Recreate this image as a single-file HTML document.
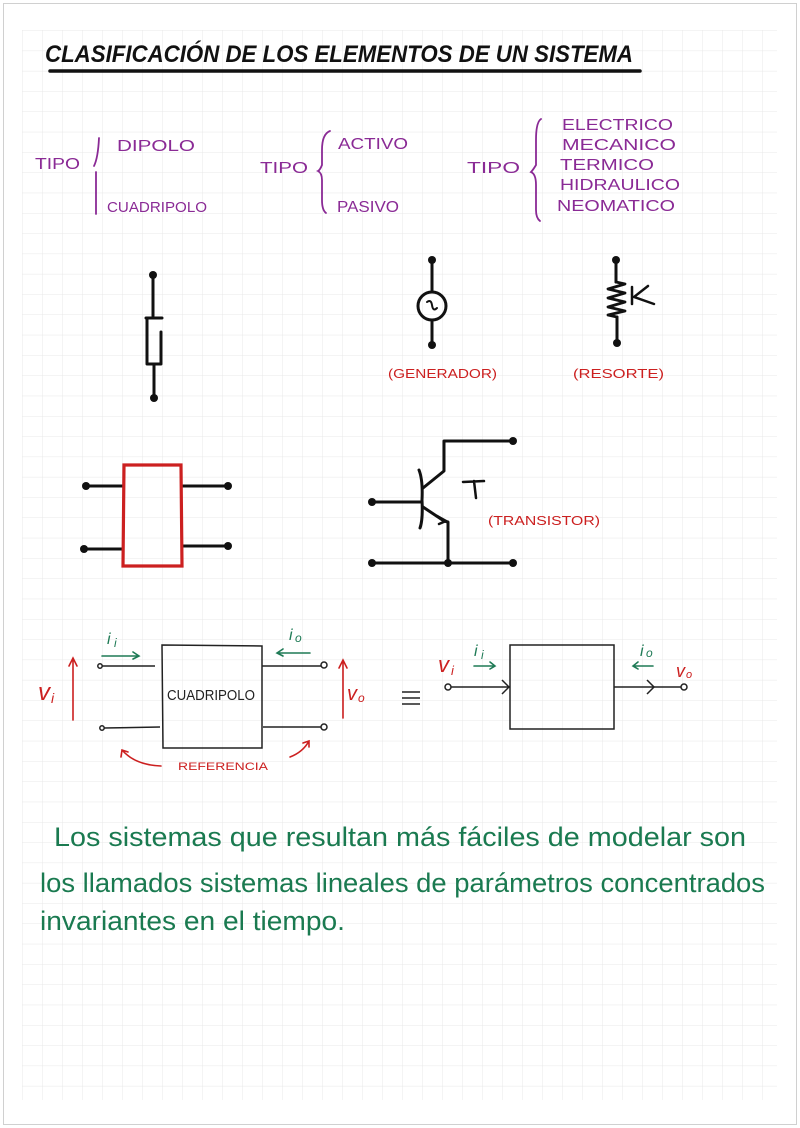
<!DOCTYPE html>
<html><head><meta charset="utf-8"><style>
html,body{margin:0;padding:0;background:#fff}
svg{display:block}
text{font-family:"Liberation Sans",sans-serif}
</style></head><body>
<svg width="800" height="1128" viewBox="0 0 800 1128" xmlns="http://www.w3.org/2000/svg">
<defs>
<pattern id="g" x="2" y="10" width="20" height="20.3" patternUnits="userSpaceOnUse">
<path d="M0 0H20M0 0V20.3" stroke="#e8e8e8" stroke-width="1" fill="none"/>
</pattern>
</defs>
<rect x="0" y="0" width="800" height="1128" fill="#fff"/>
<rect x="22" y="30" width="755" height="1070" fill="url(#g)"/>
<rect x="3.5" y="3.5" width="793" height="1121" fill="none" stroke="#d0d0d0" stroke-width="1"/>

<!-- title -->
<text x="45" y="62" font-size="24" font-weight="bold" font-style="italic" textLength="588" lengthAdjust="spacingAndGlyphs" fill="#111">CLASIFICACIÓN DE LOS ELEMENTOS DE UN SISTEMA</text>
<line x1="50" y1="71" x2="640" y2="71" stroke="#111" stroke-width="3.5" stroke-linecap="round"/>

<!-- TIPO rows -->
<g fill="#8a2a95" font-size="16">
<text x="35" y="169" textLength="45" lengthAdjust="spacingAndGlyphs">TIPO</text>
<text x="117" y="151" textLength="78" lengthAdjust="spacingAndGlyphs">DIPOLO</text>
<text x="107" y="212" textLength="100" lengthAdjust="spacingAndGlyphs" font-size="15">CUADRIPOLO</text>
<text x="260" y="173" textLength="48" lengthAdjust="spacingAndGlyphs">TIPO</text>
<text x="338" y="149" textLength="70" lengthAdjust="spacingAndGlyphs">ACTIVO</text>
<text x="337" y="212" textLength="62" lengthAdjust="spacingAndGlyphs">PASIVO</text>
<text x="467" y="173" textLength="53" lengthAdjust="spacingAndGlyphs">TIPO</text>
<text x="562" y="130" textLength="111" lengthAdjust="spacingAndGlyphs">ELECTRICO</text>
<text x="562" y="150" textLength="114" lengthAdjust="spacingAndGlyphs">MECANICO</text>
<text x="560" y="170" textLength="94" lengthAdjust="spacingAndGlyphs">TERMICO</text>
<text x="560" y="190" textLength="120" lengthAdjust="spacingAndGlyphs">HIDRAULICO</text>
<text x="557" y="211" textLength="118" lengthAdjust="spacingAndGlyphs">NEOMATICO</text>
</g>
<g stroke="#8a2a95" stroke-width="1.8" fill="none" stroke-linecap="round">
<path d="M99 138 Q98 158 94 166"/>
<path d="M96 172 L96 214"/>
<path d="M330 131 Q322 134 322 150 L322 165 Q320 170 318 171 Q322 173 322 180 L322 200 Q322 210 326 213"/>
<path d="M541 119 Q536 122 536 140 L536 165 Q533 170 531 172 Q536 174 536 185 L536 210 Q536 218 540 221"/>
</g>

<!-- components -->
<g stroke="#111" stroke-width="3" fill="none" stroke-linecap="round" stroke-linejoin="round">
<!-- dipole -->
<line x1="153" y1="276" x2="153" y2="316"/>
<path d="M146 318 L162 318 M147 318 L147 364 L161 364 L161 332"/>
<line x1="154" y1="364" x2="154" y2="398"/>
<!-- generator -->
<line x1="432" y1="260" x2="432" y2="292"/>
<circle cx="432" cy="306" r="14"/>
<path d="M427 302 Q431 299 432 305 Q433 312 437 308" stroke-width="2"/>
<line x1="432" y1="320" x2="432" y2="345"/>
<!-- spring -->
<line x1="616" y1="260" x2="616" y2="282"/>
<path d="M616 282 L625 284 L608 289 L625 293 L608 298 L625 302 L608 307 L625 311 L608 315 L617 317" stroke-width="2.8"/>
<line x1="617" y1="317" x2="617" y2="343"/>
<path d="M632 287 L632 304 M648 286 L634 297 L654 304" stroke-width="2.5"/>
<!-- quadripole left -->
<line x1="86" y1="486" x2="122" y2="486"/>
<line x1="84" y1="549" x2="122" y2="549"/>
<line x1="183" y1="486" x2="228" y2="486"/>
<line x1="183" y1="546" x2="228" y2="546"/>
<!-- transistor -->
<line x1="372" y1="502" x2="421" y2="502"/>
<path d="M419 470 Q423 480 422 500 Q423 520 420 528"/>
<path d="M423 488 L444 471 L444 441 L513 441"/>
<path d="M423 507 L444 521 L448 522 L448 563"/>
<path d="M437 516 L446 521 L439 524" stroke-width="2.5"/>
<line x1="372" y1="563" x2="513" y2="563"/>
<path d="M463 482 L484 481 M474 481 L476 498" stroke-width="2.5"/>
</g>
<g fill="#111">
<circle cx="153" cy="275" r="4"/><circle cx="154" cy="398" r="4"/>
<circle cx="432" cy="260" r="4"/><circle cx="432" cy="345" r="4"/>
<circle cx="616" cy="260" r="4"/><circle cx="617" cy="343" r="4"/>
<circle cx="86" cy="486" r="4"/><circle cx="84" cy="549" r="4"/>
<circle cx="228" cy="486" r="4"/><circle cx="228" cy="546" r="4"/>
<circle cx="372" cy="502" r="4"/><circle cx="513" cy="441" r="4"/>
<circle cx="372" cy="563" r="4"/><circle cx="448" cy="563" r="4"/><circle cx="513" cy="563" r="4"/>
</g>
<path d="M124 465 L181 465 L182 566 L123 566 Z" fill="none" stroke="#cc2020" stroke-width="3.2"/>
<g fill="#cc2020" font-size="13">
<text x="388" y="378" textLength="109" lengthAdjust="spacingAndGlyphs">(GENERADOR)</text>
<text x="573" y="378" textLength="91" lengthAdjust="spacingAndGlyphs">(RESORTE)</text>
<text x="488" y="525" textLength="112" lengthAdjust="spacingAndGlyphs">(TRANSISTOR)</text>
</g>

<!-- quadripolo diagram -->
<g stroke="#222" stroke-width="1.5" fill="none">
<path d="M162 645 L262 646 L262 748 L163 748 Z"/>
<line x1="102" y1="666" x2="155" y2="666"/>
<line x1="104" y1="728" x2="160" y2="727"/>
<line x1="262" y1="666" x2="321" y2="666"/>
<line x1="263" y1="727" x2="321" y2="727"/>
<circle cx="100" cy="666" r="2.2"/><circle cx="102" cy="728" r="2.2"/>
<circle cx="324" cy="665" r="3"/><circle cx="324" cy="727" r="3"/>
<path d="M510 645 L614 645 L614 729 L510 729 Z"/>
<line x1="451" y1="687" x2="510" y2="687"/>
<path d="M502 680 L509 687 L502 694"/>
<line x1="614" y1="687" x2="681" y2="687"/>
<path d="M647 680 L654 687 L647 694"/>
<circle cx="448" cy="687" r="3"/><circle cx="684" cy="687" r="3"/>
<path d="M402 692 H420 M402 698 H420 M402 704 H420"/>
</g>
<text x="167" y="700" font-size="15" fill="#222" textLength="88" lengthAdjust="spacingAndGlyphs">CUADRIPOLO</text>
<g stroke="#1e7a55" stroke-width="1.6" fill="none" stroke-linecap="round">
<path d="M102 656 L139 656 M133 652 L139 656 L133 659"/>
<path d="M310 653 L277 653 M283 649 L277 653 L283 656"/>
<path d="M474 666 L495 666 M490 662 L495 666 L490 669"/>
<path d="M653 666 L633 666 M638 662 L633 666 L638 669"/>
</g>
<g fill="#1e7a55" font-size="16" font-style="italic">
<text x="107" y="644">i</text><text x="114" y="647" font-size="12">i</text>
<text x="289" y="640">i</text><text x="295" y="642" font-size="12">o</text>
<text x="474" y="656">i</text><text x="481" y="659" font-size="12">i</text>
<text x="640" y="656">i</text><text x="646" y="657" font-size="12">o</text>
</g>
<g stroke="#cc2020" stroke-width="1.6" fill="none" stroke-linecap="round">
<path d="M73 720 L73 658 M69 666 L73 658 L77 666"/>
<path d="M343 718 L343 660 M339 668 L343 660 L347 668"/>
<path d="M161 766 Q135 765 122 750 M121 757 L122 750 L128 752"/>
<path d="M290 757 Q303 752 309 741 M303 743 L309 741 L309 747"/>
</g>
<g fill="#cc2020" font-style="italic">
<text x="38" y="700" font-size="24">v</text><text x="51" y="703" font-size="14">i</text>
<text x="347" y="700" font-size="20">v</text><text x="358" y="702" font-size="12">o</text>
<text x="438" y="672" font-size="22">v</text><text x="451" y="675" font-size="13">i</text>
<text x="676" y="677" font-size="18">v</text><text x="686" y="678" font-size="11">o</text>
<text x="178" y="770" font-size="11" font-style="normal" textLength="90" lengthAdjust="spacingAndGlyphs">REFERENCIA</text>
</g>

<!-- paragraph -->
<g fill="#1a7a50" font-size="27">
<text x="54" y="846" textLength="692" lengthAdjust="spacingAndGlyphs">Los sistemas que resultan más fáciles de modelar son</text>
<text x="40" y="892" textLength="725" lengthAdjust="spacingAndGlyphs">los llamados sistemas lineales de parámetros concentrados</text>
<text x="40" y="930" textLength="305" lengthAdjust="spacingAndGlyphs">invariantes en el tiempo.</text>
</g>
</svg>
</body></html>
